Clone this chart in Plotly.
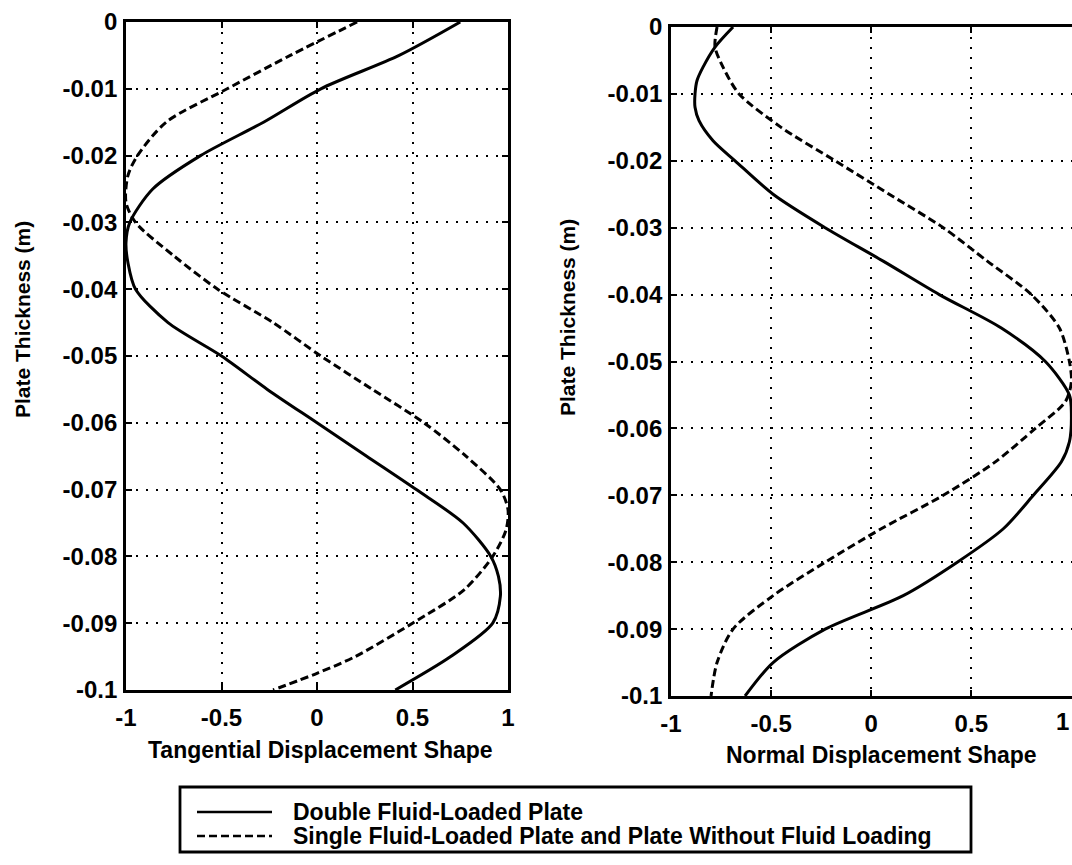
import plotly.graph_objects as go

# ---------------- data ----------------
# Left panel: tangential displacement shape vs plate thickness
tan_double_y = [0, -0.005, -0.01, -0.015, -0.02, -0.025, -0.03, -0.033, -0.036, -0.04,
                -0.045, -0.05, -0.055, -0.06, -0.065, -0.07, -0.075, -0.08, -0.083,
                -0.086, -0.09, -0.095, -0.1]
tan_double_x = [0.75, 0.43, 0.02, -0.28, -0.61, -0.86, -0.98, -1.0, -0.99, -0.95,
                -0.78, -0.50, -0.26, 0.0, 0.26, 0.52, 0.765, 0.91, 0.95,
                0.96, 0.92, 0.70, 0.41]

tan_single_y = [0, -0.005, -0.01, -0.015, -0.02, -0.023, -0.027, -0.03, -0.035, -0.04,
                -0.045, -0.05, -0.055, -0.06, -0.065, -0.07, -0.073, -0.076, -0.08,
                -0.085, -0.09, -0.095, -0.0975, -0.1]
tan_single_x = [0.21, -0.14, -0.47, -0.79, -0.94, -0.99, -1.0, -0.95, -0.75, -0.52,
                -0.23, 0.02, 0.29, 0.56, 0.78, 0.96, 1.0, 0.99, 0.92,
                0.77, 0.50, 0.20, 0.0, -0.23]

# Right panel: normal displacement shape vs plate thickness
norm_double_y = [0, -0.003, -0.006, -0.008, -0.01, -0.012, -0.014, -0.017, -0.02, -0.025,
                 -0.03, -0.035, -0.04, -0.045, -0.05, -0.055, -0.058, -0.062, -0.065,
                 -0.07, -0.075, -0.08, -0.085, -0.09, -0.095, -0.1]
norm_double_x = [-0.69, -0.78, -0.84, -0.87, -0.88, -0.88, -0.86, -0.79, -0.68, -0.49,
                 -0.23, 0.06, 0.34, 0.65, 0.87, 0.99, 1.0, 0.99, 0.95,
                 0.81, 0.66, 0.43, 0.16, -0.23, -0.49, -0.63]

norm_single_y = [0, -0.003, -0.006, -0.01, -0.015, -0.02, -0.025, -0.03, -0.035, -0.04,
                 -0.045, -0.05, -0.053, -0.056, -0.06, -0.065, -0.07, -0.075, -0.08,
                 -0.085, -0.09, -0.095, -0.1]
norm_single_x = [-0.77, -0.78, -0.74, -0.66, -0.45, -0.18, 0.09, 0.36, 0.58, 0.80,
                 0.94, 0.99, 1.0, 0.97, 0.82, 0.62, 0.36, 0.05, -0.23,
                 -0.49, -0.69, -0.77, -0.80]

y_ticks = [0, -0.01, -0.02, -0.03, -0.04, -0.05, -0.06, -0.07, -0.08, -0.09, -0.1]
y_tick_labels = ["0", "-0.01", "-0.02", "-0.03", "-0.04", "-0.05", "-0.06", "-0.07",
                 "-0.08", "-0.09", "-0.1"]
x_ticks = [-1, -0.5, 0, 0.5, 1]
x_tick_labels = ["-1", "-0.5", "0", "0.5", "1"]

series_names = ["Double Fluid-Loaded Plate",
                "Single Fluid-Loaded Plate and Plate Without Fluid Loading"]
x_titles = ["Tangential Displacement Shape", "Normal Displacement Shape"]
y_title = "Plate Thickness (m)"

# ---------------- figure ----------------
W, H = 1072, 865
FONT = "Liberation Sans, Arial, Helvetica, sans-serif"
DASH = "8px,4px"


def px(x):
    return x / W


def py(y):
    return 1 - y / H


fig = go.Figure()

solid = dict(color="black", width=3, shape="spline", smoothing=0.8)
dashed = dict(color="black", width=3, dash=DASH, shape="spline", smoothing=0.8)

fig.add_trace(go.Scatter(x=tan_double_x, y=tan_double_y, mode="lines", line=solid,
                         name=series_names[0], xaxis="x", yaxis="y"))
fig.add_trace(go.Scatter(x=tan_single_x, y=tan_single_y, mode="lines", line=dashed,
                         name=series_names[1], xaxis="x", yaxis="y"))
fig.add_trace(go.Scatter(x=norm_double_x, y=norm_double_y, mode="lines", line=solid,
                         name=series_names[0], xaxis="x2", yaxis="y2"))
fig.add_trace(go.Scatter(x=norm_single_x, y=norm_single_y, mode="lines", line=dashed,
                         name=series_names[1], xaxis="x2", yaxis="y2"))

tickfont = dict(family=FONT, size=24, color="black", weight="bold")
common = dict(showline=True, linecolor="black", linewidth=2.8,
              showgrid=True, gridcolor="black", gridwidth=1.8, griddash="2px,8px",
              ticks="inside", ticklen=6, tickwidth=2, tickcolor="black",
              zeroline=False, tickfont=tickfont, automargin=False)

fig.update_layout(
    template="none",
    width=W, height=H,
    margin=dict(l=0, r=0, t=0, b=0, pad=0),
    paper_bgcolor="white", plot_bgcolor="white",
    showlegend=False,
    xaxis=dict(domain=[px(126), px(508)], range=[-1, 1], anchor="y",
               tickvals=x_ticks, ticktext=x_tick_labels, mirror="allticks",
               ticklabelstandoff=4, **common),
    yaxis=dict(domain=[py(690), py(22)], range=[-0.1, 0], anchor="x",
               tickvals=y_ticks, ticktext=y_tick_labels, mirror="allticks",
               ticklabelstandoff=1, **common),
    xaxis2=dict(domain=[px(671), 1.0], range=[-1, 1.003], anchor="y2",
                tickvals=x_ticks, ticktext=x_tick_labels, mirror="allticks",
                ticklabelstandoff=4, **common),
    yaxis2=dict(domain=[py(696), py(27)], range=[-0.1, 0], anchor="x2",
                tickvals=y_ticks, ticktext=y_tick_labels, mirror=False,
                ticklabelstandoff=1, **common),
)

title_font = dict(family=FONT, size=23, color="black", weight="bold")
ytitle_font = dict(family=FONT, size=21, color="black", weight="bold")
legend_font = dict(family=FONT, size=23, color="black", weight="bold")

annotations = [
    dict(text=x_titles[0], x=px(320), y=py(750), font=title_font),
    dict(text=x_titles[1], x=px(881), y=py(755), font=title_font),
    dict(text=y_title, x=px(22), y=py(320), textangle=-90, font=ytitle_font),
    dict(text=y_title, x=px(568), y=py(318), textangle=-90, font=ytitle_font),
]
for a in annotations:
    a.update(xref="paper", yref="paper", xanchor="center", yanchor="middle",
             showarrow=False)

# the last tick label of the right panel, kept inside the picture edge
annotations.append(dict(text=x_tick_labels[-1], xref="x2", yref="paper",
                        x=x_ticks[-1], y=py(721), xanchor="right", yanchor="middle",
                        showarrow=False, font=tickfont))

# legend box drawn manually
legend_rows = [(812, "solid"), (836, DASH)]
for (yy, dash), name in zip(legend_rows, series_names):
    fig.add_shape(type="line", xref="paper", yref="paper",
                  x0=px(197), x1=px(272), y0=py(yy), y1=py(yy),
                  line=dict(color="black", width=2.6, dash=dash))
    annotations.append(dict(text=name, xref="paper", yref="paper", x=px(291), y=py(yy),
                            xanchor="left", yanchor="middle", showarrow=False,
                            font=legend_font))
fig.add_shape(type="rect", xref="paper", yref="paper",
              x0=px(180), x1=px(971), y0=py(852), y1=py(787),
              line=dict(color="black", width=2.8), fillcolor="rgba(0,0,0,0)")

fig.update_layout(annotations=annotations)

fig.write_html("out.html")
